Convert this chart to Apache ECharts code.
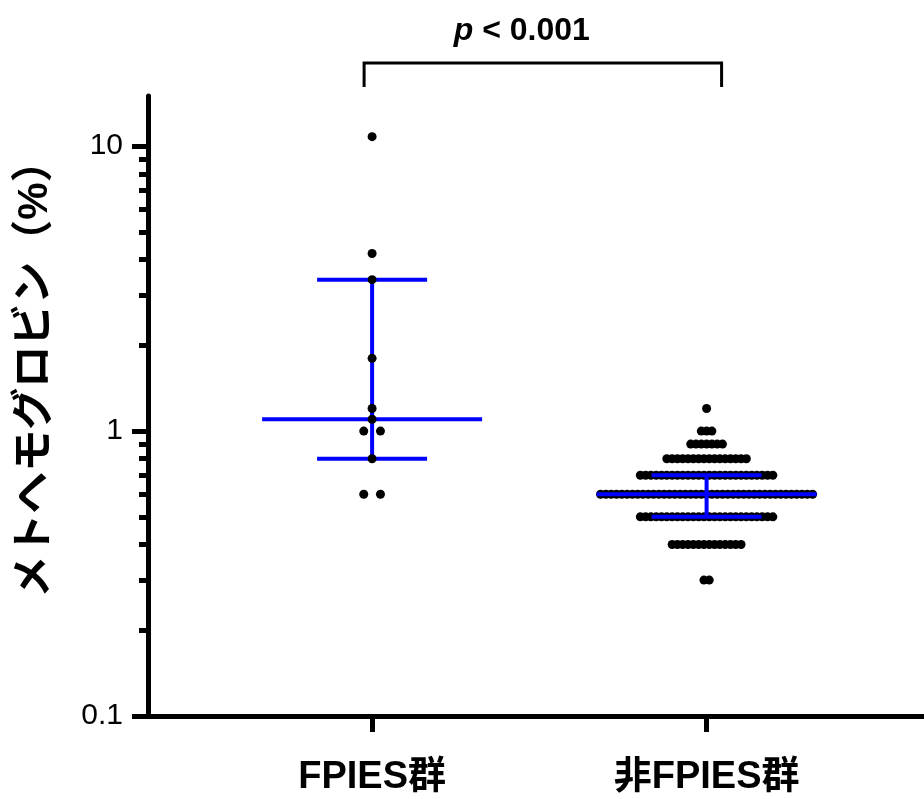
<!DOCTYPE html>
<html>
<head>
<meta charset="utf-8">
<script src="https://cdn.jsdelivr.net/npm/echarts@6/dist/echarts.min.js"></script>
<style>
html, body { margin: 0; padding: 0; background: #fff; }
#chart { width: 924px; height: 799px; }
</style>
</head>
<body>
<div id="chart"></div>
<script>
// 分类
const groups = ['FPIES群', '非FPIES群'];
// FPIES群：每个患者一个值
const fpiesValues = [10.8, 4.2, 3.4, 1.8, 1.2, 1.1, 1.0, 1.0, 0.8, 0.6, 0.6];
// 非FPIES群：各水平及该水平上的人数
const nonFpiesLevels = [0.3, 0.4, 0.5, 0.6, 0.7, 0.8, 0.9, 1.0, 1.2];
const nonFpiesCounts = [2, 14, 26, 41, 26, 16, 7, 3, 1];
// y轴刻度
const yMajorTicks = [0.1, 1, 10];
const yMinorTicks = [0.2, 0.3, 0.4, 0.5, 0.6, 0.7, 0.8, 0.9, 2, 3, 4, 5, 6, 7, 8, 9];
const yMin = 0.1;
const yMax = 15;
const pText = '< 0.001';

const fontFamily = '"Liberation Sans", Arial, "Noto Sans CJK JP", sans-serif';

let nonFpiesValues = [];
nonFpiesLevels.forEach((lv, i) => {
  for (let k = 0; k < nonFpiesCounts[i]; k++) nonFpiesValues.push(lv);
});

// 四分位 (n+1)p
function quantile(vals, p) {
  const s = vals.slice().sort((a, b) => a - b);
  const pos = (s.length + 1) * p - 1;
  const lo = Math.floor(pos), hi = Math.ceil(pos);
  return s[lo] + (s[hi] - s[lo]) * (pos - lo);
}

// 同一值的点左右排开
function dotData(gi, vals, spacing) {
  const count = {}, seen = {};
  vals.forEach(v => { count[v] = (count[v] || 0) + 1; });
  return vals.map(v => {
    const k = seen[v] || 0;
    seen[v] = k + 1;
    return { value: [gi, v], symbolOffset: [(k - (count[v] - 1) / 2) * spacing, 0] };
  });
}

const summary = [fpiesValues, nonFpiesValues].map((vals, gi) =>
  [gi, quantile(vals, 0.25), quantile(vals, 0.5), quantile(vals, 0.75)]);

const blue = '#0000ff';

function renderErrorBar(params, api) {
  const gx = api.value(0);
  const lo = api.coord([gx, api.value(1)]);
  const md = api.coord([gx, api.value(2)]);
  const hi = api.coord([gx, api.value(3)]);
  const style = { stroke: blue, lineWidth: 4 };
  return {
    type: 'group',
    children: [
      { type: 'line', shape: { x1: md[0] - 110, y1: md[1], x2: md[0] + 110, y2: md[1] }, style: style },
      { type: 'line', shape: { x1: lo[0] - 55, y1: lo[1], x2: lo[0] + 55, y2: lo[1] }, style: style },
      { type: 'line', shape: { x1: hi[0] - 55, y1: hi[1], x2: hi[0] + 55, y2: hi[1] }, style: style },
      { type: 'line', shape: { x1: lo[0], y1: lo[1], x2: hi[0], y2: hi[1] }, style: style }
    ]
  };
}

function renderBracket(params, api) {
  const a = api.coord([api.value(0), yMax]);
  const b = api.coord([api.value(1), yMax]);
  const x0 = a[0] - 8, x1 = b[0] + 15;
  const top = a[1] - 33, bottom = a[1] - 9;
  const style = { stroke: '#000', lineWidth: 3, fill: null };
  return {
    type: 'group',
    children: [
      { type: 'polyline', shape: { points: [[x0, bottom], [x0, top], [x1, top], [x1, bottom]] }, style: style },
      {
        type: 'text',
        x: (x0 + x1) / 2 - 21,
        y: top - 16,
        style: {
          text: '{p|p} ' + pText,
          fontFamily: fontFamily,
          fontSize: 32,
          fontWeight: 'bold',
          fill: '#000',
          align: 'center',
          verticalAlign: 'bottom',
          rich: { p: { fontStyle: 'italic', fontWeight: 'bold', fontSize: 32, fontFamily: fontFamily } }
        }
      }
    ]
  };
}

const chart = echarts.init(document.getElementById('chart'));
chart.setOption({
  animation: false,
  backgroundColor: '#fff',
  grid: { left: 148, right: 0, top: 96, bottom: 83, containLabel: false, outerBoundsMode: 'none' },
  xAxis: {
    type: 'value',
    min: -0.67,
    max: 1.65,
    splitLine: { show: false },
    axisLine: { show: true, onZero: false, lineStyle: { color: '#000', width: 5 } },
    axisTick: { show: true, customValues: [0, 1], length: 16, lineStyle: { color: '#000', width: 5 } },
    axisLabel: {
      customValues: [0, 1],
      formatter: v => groups[Math.round(v)],
      margin: 43,
      color: '#000',
      fontSize: 38,
      fontWeight: 'bold',
      fontFamily: fontFamily
    }
  },
  yAxis: [
    {
      type: 'log',
      min: yMin,
      max: yMax,
      position: 'left',
      splitLine: { show: false },
      axisLine: { show: true, onZero: false, lineStyle: { color: '#000', width: 5 } },
      axisTick: { show: true, customValues: yMajorTicks, length: 16, lineStyle: { color: '#000', width: 5 } },
      axisLabel: {
        customValues: yMajorTicks,
        formatter: v => String(v),
        margin: 25,
        color: '#000',
        fontSize: 30,
        fontFamily: fontFamily
      },
      name: 'メトヘモグロビン（%）',
      nameLocation: 'middle',
      nameRotate: 90,
      nameGap: 92,
      nameTextStyle: {
        color: '#000',
        fontSize: 42,
        fontWeight: 'bold',
        fontFamily: fontFamily,
        padding: [0, 0, 0, 74]
      }
    },
    {
      type: 'log',
      min: yMin,
      max: yMax,
      position: 'left',
      splitLine: { show: false },
      axisLine: { show: false, onZero: false },
      axisTick: { show: true, customValues: yMinorTicks, length: 9, lineStyle: { color: '#000', width: 5 } },
      axisLabel: { show: false }
    }
  ],
  series: [
    {
      type: 'scatter',
      symbol: 'circle',
      symbolSize: 9,
      itemStyle: { color: '#000', opacity: 1 },
      z: 2,
      data: dotData(1, nonFpiesValues, 5.3)
    },
    {
      type: 'custom',
      renderItem: renderErrorBar,
      z: 3,
      data: summary
    },
    {
      type: 'scatter',
      symbol: 'circle',
      symbolSize: 9,
      itemStyle: { color: '#000', opacity: 1 },
      z: 4,
      data: dotData(0, fpiesValues, 16.7)
    },
    {
      type: 'custom',
      renderItem: renderBracket,
      clip: false,
      z: 5,
      data: [[0, 1]]
    }
  ]
});
</script>
</body>
</html>
